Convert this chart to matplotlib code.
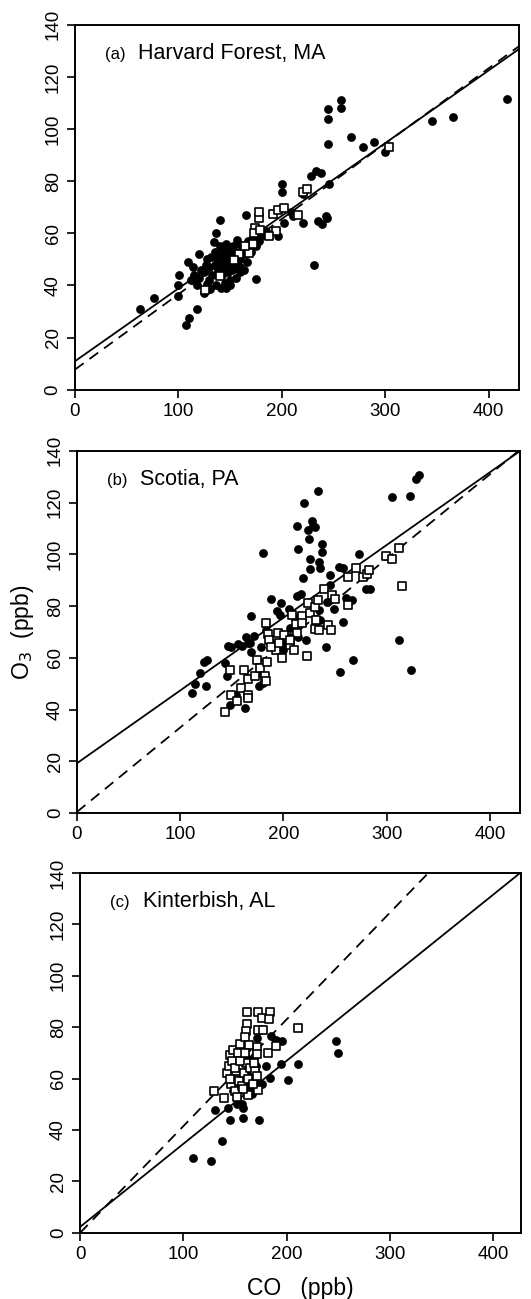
import numpy as np
import matplotlib
matplotlib.use("Agg")
import matplotlib.pyplot as plt

plt.rcParams['font.family'] = ['Liberation Sans', 'DejaVu Sans']

# ---- (a) Harvard Forest, MA ----
a_circ_co = [63, 76, 101, 100, 100, 110, 107, 118, 109, 120, 114, 134, 136, 140, 165, 175, 157,
             200, 200, 196, 202, 209, 211, 220, 220, 228, 233, 238, 231, 235, 239, 243, 244, 245,
             245, 245, 246, 257, 257, 267, 278, 289, 300, 345, 365, 418,
             112, 115, 118, 120, 122, 125, 125, 127, 128, 130, 130, 132, 133, 135, 135, 136, 137,
             138, 139, 140, 140, 141, 142, 143, 144, 145, 145, 146, 147, 148, 148, 149, 150, 150,
             151, 152, 153, 154, 155, 155, 156, 157, 158, 159, 160, 160, 162, 163, 165, 166, 167,
             168, 170, 172, 175, 178, 180, 182, 185, 131, 128, 160, 150, 146]
a_circ_o3 = [31, 35, 44, 36, 40, 27.5, 25, 31, 49, 52, 47, 56.5, 60, 65, 67, 42.6, 57.5,
             79, 75.7, 59, 64, 68, 66.5, 64, 75, 82, 84, 83, 48, 64.6, 63.5, 66.5, 66, 107.6,
             104, 94.4, 79, 111, 108, 97, 93, 95, 91, 103, 104.5, 111.5,
             42, 44, 40, 43, 46, 45, 37, 48, 50, 47, 42, 51, 44, 48, 53, 40, 50,
             46, 52, 48, 55, 39, 44, 50, 53, 47, 41, 56, 49, 52, 45, 54, 48, 40,
             51, 46, 55, 50, 47, 53, 43, 49, 52, 56, 47, 50, 54, 46, 52, 49, 57,
             55, 53, 58, 55, 57, 59, 60, 61, 38.5, 40.5, 45, 42, 39]
a_sq_co = [126, 174, 178, 178, 173, 168, 191, 196, 202, 194, 188, 216, 220, 224, 304,
           179, 172, 159, 164, 154, 140]
a_sq_o3 = [38.4, 62, 66, 68, 60, 52.4, 67.4, 69, 69.7, 61, 59, 67, 76, 77, 93,
           61.4, 56, 52, 55, 49.6, 43.5]

# ---- (b) Scotia, PA ----
b_circ_co = [111, 114, 119, 123, 126, 125, 143, 145, 146, 149, 155.6, 160, 163, 148, 154, 169,
             171, 180, 188, 198, 194, 197, 205, 213, 214, 220, 219, 213, 217, 222, 224, 225,
             226, 226, 228, 229, 231, 233, 234, 235, 237, 237, 245, 245, 241, 249, 254, 258,
             255, 258, 261, 266, 267, 273, 279, 280, 284, 305, 312, 323, 323.5, 328, 331.5,
             167.6, 169, 174, 176, 176, 180, 183, 190, 199, 206, 209, 206, 214, 235, 234, 242,
             164, 166, 178, 200]
b_circ_o3 = [46.3, 50, 54, 58.4, 59.2, 49, 58, 53, 64.6, 64.3, 65.2, 64.6, 40.8, 41.6, 45.7, 76,
             68.5, 100.6, 82.6, 81, 78, 76.6, 78.8, 111, 102, 120, 90.7, 84, 84.5, 67, 109.4, 106,
             98, 94.3, 113, 111, 110.7, 124.4, 97, 94.6, 104, 100.8, 92, 88, 64, 78.8, 95, 94.6,
             54.4, 74, 83, 82.4, 59, 100, 91.7, 86.6, 86.6, 122, 67, 122.6, 55.3, 129, 130.5,
             65.6, 62.4, 59.2, 54, 49, 50.2, 70.8, 65.6, 65.6, 71.4, 76, 68.2, 68, 74.6, 78.5, 81.7,
             68.2, 65.6, 64.3, 63]
b_sq_co = [143, 149, 148, 155, 159, 166, 166, 162, 166, 172, 174, 177, 182, 183, 184, 183, 185,
           186, 193, 195, 199, 201, 206, 208, 210, 212, 213, 218, 218, 223, 224, 226, 231, 231,
           232, 233, 239, 243, 245.6, 246.6, 250, 263, 263, 270, 277, 280.5, 283, 299, 305, 312,
           315, 234, 206, 188, 196]
b_sq_o3 = [39.2, 45.7, 55.3, 43.5, 48.3, 45.7, 44.4, 55.3, 52, 52.8, 59.2, 56, 52.8, 51.2, 58.5,
           73.6, 69.2, 67, 63, 69.7, 60, 69, 65, 76.6, 63, 73, 69.5, 76, 73.4, 60.9, 81, 77.5,
           79.8, 71, 74.6, 82.4, 86.5, 72.7, 70.8, 84.3, 82.7, 91.4, 80.4, 94.8, 91.4, 92.4, 94,
           99.3, 98, 102.6, 87.8, 70.8, 67, 64.3, 65.6]

# ---- (c) Kinterbish, AL ----
c_circ_co = [109, 127, 137, 131, 145, 158, 173, 143, 158, 180, 184, 185, 190, 196, 195, 201,
             210.6, 247.7, 250, 176, 168, 171,
             148, 150, 152, 153, 155, 156, 157, 158, 160, 161, 162, 163, 165, 166, 168, 170,
             150, 154, 158, 162, 166, 170, 172, 147, 152, 160]
c_circ_o3 = [29.2, 28.1, 35.6, 47.7, 44, 44.7, 43.8, 48.7, 48.7, 64.8, 60.4, 76.5, 75, 74.5,
             65.5, 59.4, 65.5, 74.5, 70, 57.8, 68.4, 75.6,
             55, 60, 52, 64, 58, 62, 50, 67, 55, 60, 72, 57, 63, 54, 60, 65,
             66, 70, 74, 59, 56, 62, 58, 60, 50, 69]
c_sq_co = [130, 139, 162, 172, 184, 176, 183, 162, 172, 177, 211, 160.6, 182, 190, 171, 171,
           172, 163, 145, 148, 155, 160,
           142, 144, 146, 147, 149, 150, 151, 153, 154, 156, 157, 159, 161, 163, 165, 167,
           169, 171, 145, 150, 155, 158, 164, 168, 152, 160]
c_sq_o3 = [55.2, 52.5, 85.7, 85.7, 85.7, 83.4, 83, 81.4, 78.8, 78.8, 79.7, 78.4, 70, 72.6,
           72.3, 69.7, 55.5, 53.5, 69, 71, 73.6, 76,
           62, 65, 58, 67, 60, 55, 63, 70, 59, 65, 57, 62, 66, 60, 64, 58,
           63, 61, 60, 64, 67, 56, 73, 66, 53, 70]

# regression lines: (intercept, slope) for solid and dashed
solid_fit = [(10.9, 0.279), (19.3, 0.281), (2.3, 0.323)]
dashed_fit = [(7.7, 0.289), (0.5, 0.326), (0.0, 0.415)]

titles = ["(a)", "(b)", "(c)"]
sites = ["Harvard Forest, MA", "Scotia, PA", "Kinterbish, AL"]
xmax = [429, 429, 427]

circles = [(a_circ_co, a_circ_o3), (b_circ_co, b_circ_o3), (c_circ_co, c_circ_o3)]
squares = [(a_sq_co, a_sq_o3), (b_sq_co, b_sq_o3), (c_sq_co, c_sq_o3)]

# axes boxes in figure fractions [left, bottom, width, height]
boxes = [[0.141, 0.700, 0.836, 0.281],
         [0.145, 0.374, 0.834, 0.279],
         [0.151, 0.051, 0.830, 0.277]]

fig = plt.figure(figsize=(5.31, 12.99), dpi=100)

for i in range(3):
    ax = fig.add_axes(boxes[i])
    cx, cy = circles[i]
    sx, sy = squares[i]
    ax.scatter(cx, cy, s=40, c='black', marker='o', linewidths=0, zorder=3)
    ax.scatter(sx, sy, s=30, facecolors='white', edgecolors='black', marker='s',
               linewidths=1.2, zorder=4)

    xl = np.array([0, xmax[i]])
    b0, b1 = solid_fit[i]
    ax.plot(xl, b0 + b1 * xl, color='black', lw=1.3, zorder=2)
    d0, d1 = dashed_fit[i]
    ax.plot(xl, d0 + d1 * xl, color='black', lw=1.3, ls=(0, (6, 4)), zorder=2)

    ax.set_xlim(0, xmax[i])
    ax.set_ylim(0, 140)
    ax.set_xticks([0, 100, 200, 300, 400])
    ax.set_yticks(np.arange(0, 141, 20))
    ax.tick_params(direction='out', length=6, width=1.2, labelsize=13.5)
    for lab in ax.get_yticklabels():
        lab.set_rotation(90)
        lab.set_va('center')
    for sp in ax.spines.values():
        sp.set_linewidth(1.4)

    ax.text(0.068, 0.905, titles[i], transform=ax.transAxes, fontsize=12, va='baseline')
    ax.text(0.143, 0.905, sites[i], transform=ax.transAxes, fontsize=15.5, va='baseline')

    if i == 1:
        ax.set_ylabel("O$_3$  (ppb)", fontsize=16.5, labelpad=8)
    if i == 2:
        ax.set_xlabel("CO   (ppb)", fontsize=16.5, labelpad=10)

fig.savefig("out.png", dpi=100)
